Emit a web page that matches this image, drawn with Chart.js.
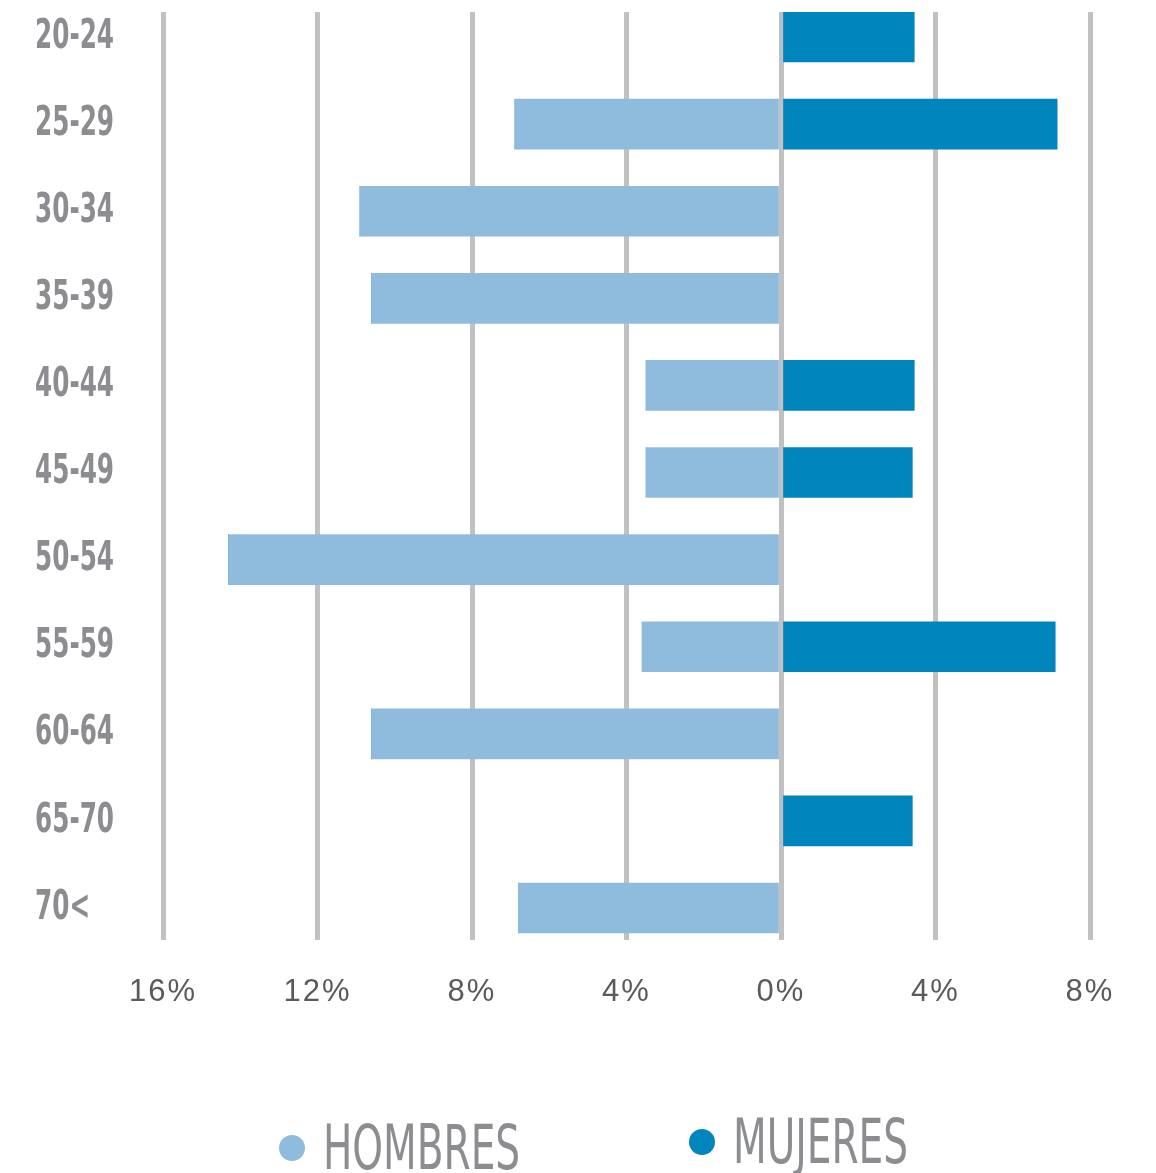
<!DOCTYPE html>
<html>
<head>
<meta charset="utf-8">
<script src="https://cdn.jsdelivr.net/npm/chart.js@4.4.1/dist/chart.umd.min.js"></script>
<style>
  html, body { margin: 0; padding: 0; background: #fff; }
  #wrap { position: relative; width: 1156px; height: 1173px; overflow: hidden; }
  #chartBox { position: absolute; left: 0; top: 0; width: 1156px; height: 1173px; }
  .legend-item { position: absolute; display: flex; align-items: center; white-space: nowrap; }
  .dot { width: 26px; height: 26px; border-radius: 50%; flex: none; }
  .lbl {
    font-family: "Liberation Sans Narrow", "DejaVu Sans Condensed", sans-serif;
    font-size: 62px; color: #8c8d90; line-height: 1;
    display: inline-block; transform-origin: left center; transform: scaleX(0.70);
    margin-left: 18px;
  }
</style>
</head>
<body>
<div id="wrap">
  <div id="chartBox"><canvas id="pyramid"></canvas></div>
  <div class="legend-item" style="left:279px; top:1117px;">
    <div class="dot" style="background:#8fbcdd;"></div><span class="lbl">HOMBRES</span>
  </div>
  <div class="legend-item" style="left:689px; top:1111px;">
    <div class="dot" style="background:#0085bd;"></div><span class="lbl">MUJERES</span>
  </div>
</div>
<script>
// age groups, top to bottom
const ageGroups = ['20-24', '25-29', '30-34', '35-39', '40-44', '45-49', '50-54', '55-59', '60-64', '65-70', '70<'];
// percentages (men drawn to the left)
const hombres = [0, 6.9, 10.9, 10.6, 3.5, 3.5, 14.3, 3.6, 10.6, 0, 6.8];
const mujeres = [3.45, 7.15, 0, 0, 3.45, 3.4, 0, 7.1, 0, 3.4, 0];
const xTicks = [-16, -12, -8, -4, 0, 4, 8];

const colorHombres = '#8fbcdd';
const colorMujeres = '#0085bd';

const canvas = document.getElementById('pyramid');

// squeeze the age labels horizontally (condensed look) and space out the % labels
function patchLabels(scale, squeeze, spacing) {
    if (scale._patched) return;
    scale._patched = true;
    const orig = scale.drawLabels;
    scale.drawLabels = function(area) {
        const ctx = this.ctx;
        ctx.save();
        if (squeeze !== 1) {
            ctx.translate(this.left, 0);
            ctx.scale(squeeze, 1);
            ctx.translate(-this.left, 0);
        }
        if (spacing) ctx.letterSpacing = spacing;
        orig.call(this, area);
        ctx.restore();
    };
}

new Chart(canvas, {
    type: 'bar',
    data: {
        datasets: [{
            label: 'Hombres',
            data: hombres.map((v, i) => ({ x: -v, y: i })),
            backgroundColor: colorHombres,
            barThickness: 50,
            borderWidth: 0
        }, {
            label: 'Mujeres',
            data: mujeres.map((v, i) => ({ x: v, y: i })),
            backgroundColor: colorMujeres,
            barThickness: 50,
            borderWidth: 0
        }]
    },
    options: {
        indexAxis: 'y',
        responsive: true,
        maintainAspectRatio: false,
        animation: false,
        layout: { padding: { left: 35, right: 66, top: 12, bottom: 153 } },
        plugins: {
            legend: { display: false },
            tooltip: { enabled: false }
        },
        scales: {
            x: {
                type: 'linear',
                stacked: true,
                min: -16,
                max: 8,
                afterBuildTicks: (scale) => { scale.ticks = xTicks.map(v => ({ value: v })); },
                afterFit: (scale) => {
                    scale.height = 80;
                    scale.paddingLeft = 0;
                    scale.paddingRight = 0;
                    patchLabels(scale, 1, '2px');
                },
                grid: { color: '#c1c1c3', lineWidth: 5, drawTicks: false },
                border: { display: false },
                ticks: {
                    padding: 34,
                    color: '#5a5a5a',
                    font: { family: 'Liberation Sans, Arial, sans-serif', size: 31 },
                    callback: (v) => Math.abs(v) + '%'
                }
            },
            y: {
                type: 'linear',
                stacked: true,
                reverse: true,
                offset: false,
                min: -0.287,
                max: 10.367,
                afterBuildTicks: (scale) => { scale.ticks = ageGroups.map((_, i) => ({ value: i })); },
                afterFit: (scale) => {
                    scale.width = 128;
                    scale.paddingTop = 0;
                    scale.paddingBottom = 0;
                    patchLabels(scale, 0.67, null);
                },
                grid: { display: false, offset: false },
                border: { display: false },
                ticks: {
                    crossAlign: 'far',
                    padding: 0,
                    color: '#8c8d90',
                    font: { family: '"Liberation Sans Narrow", "DejaVu Sans Condensed", sans-serif', size: 41, weight: 'bold' },
                    callback: (v) => ageGroups[v]
                }
            }
        }
    }
});
</script>
</body>
</html>
